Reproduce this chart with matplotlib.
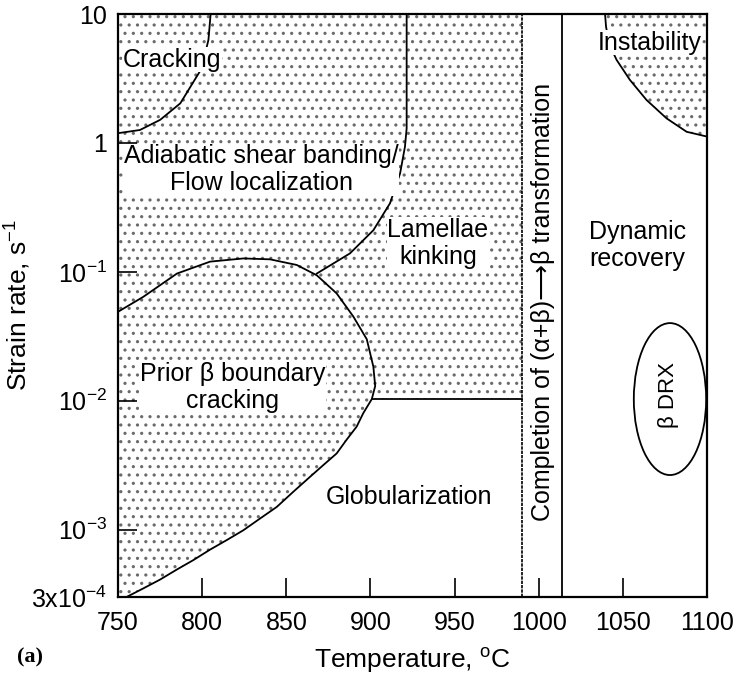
import numpy as np
import matplotlib
matplotlib.use('Agg')
import matplotlib.pyplot as plt
from matplotlib.patches import Ellipse

plt.rcParams['font.family'] = ['Liberation Sans', 'DejaVu Sans']
plt.rcParams['mathtext.fontset'] = 'custom'
plt.rcParams['mathtext.rm'] = 'Liberation Sans'
plt.rcParams['mathtext.it'] = 'Liberation Sans:italic'
plt.rcParams['mathtext.bf'] = 'Liberation Sans:bold'
plt.rcParams['hatch.linewidth'] = 1.1

# axis ticks
temp_ticks = [750, 800, 850, 900, 950, 1000, 1050, 1100]
rate_ticks = [3e-4, 1e-3, 1e-2, 1e-1, 1, 10]
rate_labels = ['3x10$^{-4}$', '10$^{-3}$', '10$^{-2}$', '10$^{-1}$', '1', '10']

# boundaries (temperature C, strain rate 1/s)
crack_T = [750, 763, 775, 787, 798.5, 801, 803.7, 805]
crack_rate = [1.19, 1.26, 1.51, 2.03, 3.57, 4.5, 6.3, 10]

shear_T = [921.5, 921.5, 920.5, 917.6, 911.6, 901.7, 887.8, 868.1]
shear_rate = [10, 1.3, 0.935, 0.58, 0.34, 0.21, 0.139, 0.097]

beta_T = [750, 765, 785, 804.7, 824.5, 840.3, 856.2, 868.1, 879.9, 889.8,
          897.8, 901.7, 902.8, 900.8, 895.7, 891.8, 885.9, 879.9, 872, 864.1,
          854.2, 844.3, 834.4, 824.5, 814.6, 804.7, 794.7, 784.9, 775, 765, 755]
beta_rate = [0.049, 0.064, 0.097, 0.12, 0.127, 0.125, 0.113, 0.094, 0.068, 0.045,
             0.030, 0.0184, 0.013, 0.0103, 0.0080, 0.0063, 0.0050, 0.0039, 0.00317, 0.00257,
             0.00197, 0.0015, 0.00122, 0.00099, 0.00083, 0.00070, 0.00058, 0.00049,
             0.00041, 0.00035, 0.0003]

kink_floor = 0.0103
ab_T = 990      # completion of (a+b)->b
transus_T = 1014

inst_T = [1039.4, 1040, 1042, 1046.3, 1054.2, 1064.1, 1076, 1087.9, 1100]
inst_rate = [10, 7.96, 5.8, 4.4, 3.08, 2.15, 1.55, 1.22, 1.12]

drx_T = 1078
drx_dT = 43
drx_rate = [0.00265, 0.0103, 0.040]

T_min, T_max = 750, 1100
rate_min, rate_max = 3e-4, 10

fig = plt.figure(figsize=(7.38, 6.74), dpi=100)
ax = fig.add_axes([0.160, 0.1142, 0.798, 0.865])
ax.set_yscale('log')
ax.set_xlim(T_min, T_max)
ax.set_ylim(rate_min, rate_max)

dot_col = '#6a6a6a'
# stippled (unsafe) domain left of the transformation line
i0 = beta_rate.index(kink_floor)
poly_T = [T_min, ab_T, ab_T] + beta_T[i0:] + [T_min]
poly_rate = [rate_max, rate_max, kink_floor] + beta_rate[i0:] + [rate_min]
ax.fill(poly_T, poly_rate, facecolor='white', edgecolor=dot_col, lw=0, hatch='..', zorder=1)
ax.fill(inst_T + [T_max], inst_rate + [rate_max], facecolor='white', edgecolor=dot_col,
        lw=0, hatch='..', zorder=1)

lw = 1.3
ax.plot(crack_T, crack_rate, color='black', lw=lw, zorder=3)
ax.plot(shear_T, shear_rate, color='black', lw=lw, zorder=3)
ax.plot(beta_T, beta_rate, color='black', lw=lw, zorder=3)
ax.plot([beta_T[i0], ab_T], [kink_floor, kink_floor], color='black', lw=lw, zorder=3)
ax.plot(inst_T, inst_rate, color='black', lw=lw, zorder=3)
ax.axvline(ab_T, color='black', lw=1.2, ls=(0, (2, 0.6)), zorder=3)
ax.axvline(transus_T, color='black', lw=1.3, zorder=3)

drx = Ellipse((drx_T, np.log10(drx_rate[1])), drx_dT,
              np.log10(drx_rate[2]) - np.log10(drx_rate[0]),
              transform=ax.transLimits + ax.transAxes,
              facecolor='none', edgecolor='black', lw=1.3, zorder=3)
ax.add_patch(drx)

fs = 18
tk = dict(ha='center', va='center', fontsize=fs, zorder=4,
          bbox=dict(facecolor='white', edgecolor='none', pad=0.3))
ax.text(782, 4.4, 'Cracking', **tk)
ax.text(835, 0.62, 'Adiabatic shear banding/\nFlow localization', linespacing=1.15, **tk)
ax.text(940, 0.167, 'Lamellae\nkinking', linespacing=1.15, **tk)
ax.text(818, 0.0126, 'Prior \u03b2 boundary\ncracking', linespacing=1.15, **tk)
ax.text(923, 0.00179, 'Globularization', **tk)
ax.text(1058.5, 0.161, 'Dynamic\nrecovery', linespacing=1.15, **tk)
ax.text(1066, 5.96, 'Instability', **tk)
ax.text(1002.5, 0.058, 'Completion of (\u03b1+\u03b2)\u27f6\u03b2 transformation',
        rotation=90, **tk)
ax.text(1077, 0.011, '\u03b2 DRX', rotation=90, ha='center', va='center', fontsize=16, zorder=4)

ax.set_xticks(temp_ticks)
ax.set_yticks(rate_ticks)
ax.set_yticklabels(rate_labels)
ax.minorticks_off()
ax.tick_params(direction='in', length=14, width=1.2, labelsize=fs, pad=8)
ax.tick_params(axis='x', pad=10)
for s in ax.spines.values():
    s.set_linewidth(1.6)

ax.set_xlabel('Temperature, $^{\\rm o}$C', fontsize=19, labelpad=8)
ax.set_ylabel('Strain rate, s$^{-1}$', fontsize=19)
ax.yaxis.set_label_coords(-0.144, 0.5)
fig.text(0.04, 0.025, '(a)', fontsize=16, fontweight='bold', family='Liberation Serif',
         ha='center', va='center')

fig.savefig('out.png', dpi=100)
